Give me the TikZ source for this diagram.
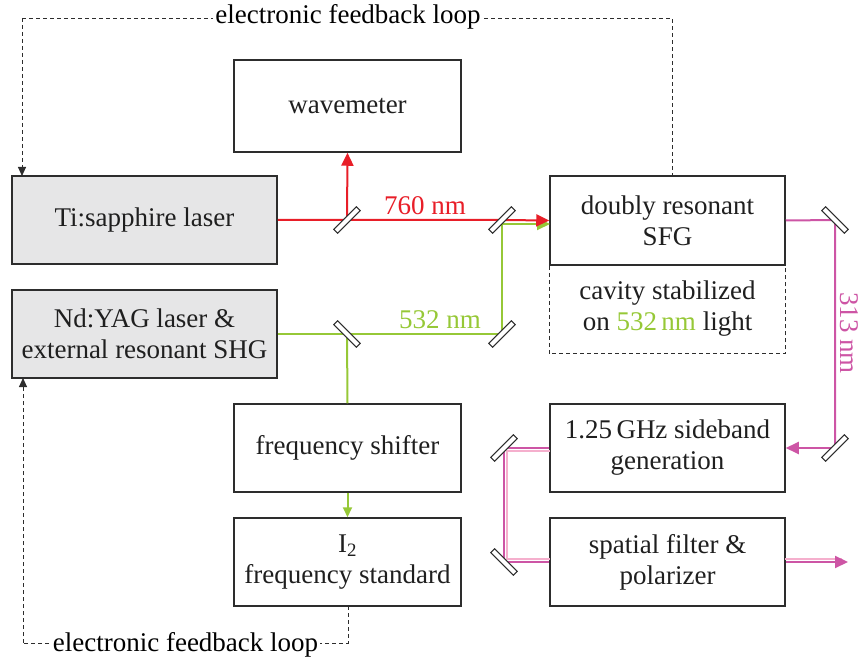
\documentclass[tikz,border=0pt]{standalone}
\usepackage{fontspec}
\setmainfont{Liberation Serif}
\usetikzlibrary{arrows.meta}
\definecolor{boxgray}{RGB}{230,230,231}
\definecolor{edge}{RGB}{45,45,45}
\definecolor{beamred}{RGB}{232,30,40}
\definecolor{beamgreen}{RGB}{150,200,55}
\definecolor{beampink}{RGB}{205,85,165}
\definecolor{lightpink}{RGB}{245,175,205}
\tikzset{
  box/.style={draw=edge, line width=1.5pt, minimum width=227pt, minimum height=88pt, align=center, inner sep=0pt, font=\fontsize{27}{31}\selectfont, text=black!88},
  graybox/.style={box, fill=boxgray, minimum width=265pt},
  mirror/.style={draw=edge, fill=white, line width=1pt, minimum width=32pt, minimum height=5.5pt, inner sep=0pt},
  redbeam/.style={draw=beamred, line width=2pt},
  greenbeam/.style={draw=beamgreen, line width=2pt},
  pinkbeam/.style={draw=beampink, line width=2pt},
  ltbeam/.style={draw=lightpink, line width=2pt},
  tip/.style={-{Triangle[length=13pt,width=12pt]}},
  fb/.style={draw=edge, line width=0.9pt, dash pattern=on 4pt off 3pt},
  lbl/.style={font=\fontsize{27}{31}\selectfont, inner sep=1pt}
}
\begin{document}
\begin{tikzpicture}[x=1pt,y=-1pt]
\useasboundingbox (0,0) rectangle (863,666);
% boxes
\node[graybox] (ti) at (144.5,220) {Ti:sapphire laser};
\node[graybox] (nd) at (144.5,334) {Nd:YAG laser \&\\external resonant SHG};
\node[box, minimum height=92pt] (wm) at (347.5,106) {wavemeter};
\node[box] (fs) at (347.5,448) {frequency shifter};
\node[box] (i2) at (347.5,562) {I\textsubscript{2}\\frequency standard};
\node[box, minimum width=235pt, minimum height=89pt] (sfg) at (667.5,220.5) {doubly resonant\\SFG};
\node[box, draw=none, minimum width=235pt, minimum height=88pt] (cav) at (667.5,309) {cavity stabilized\\on {\color{beamgreen}532\,nm} light};
\draw[fb, line width=1.1pt] (sfg.south west) -- (cav.south west) -- (cav.south east) -- (sfg.south east);
\node[box, minimum width=235pt] (sb) at (667.5,448) {1.25\,GHz sideband\\generation};
\node[box, minimum width=235pt] (sp) at (667.5,562) {spatial filter \&\\polarizer};
% mirror positions
\coordinate (p1) at (347,220);
\coordinate (p2) at (502,220);
\coordinate (p3) at (347,334);
\coordinate (p4) at (502,334);
\coordinate (p5) at (835,220);
\coordinate (p6) at (835,448);
\coordinate (p7) at (504,448);
\coordinate (p8) at (504,562);
\coordinate (g1) at (502,224);
\coordinate (g2) at (550,224);
\coordinate (out) at (848,562);
\coordinate (q7) at (507,451);
\coordinate (q8) at (507,559);
\coordinate (qs) at (550,451);
\coordinate (qp) at (550,559);
\coordinate (qo1) at (785,559);
\coordinate (qo2) at (842,559);
% green beams
\draw[greenbeam] (nd.east) -- (p3) -- (p4) -- (g1);
\draw[greenbeam, tip] (g1) -- (g2);
\draw[greenbeam] (p3) -- (fs.north);
\draw[greenbeam, -{Triangle[length=10pt,width=9pt]}] (fs.south) -- (i2.north);
% red beams
\draw[redbeam, tip] (ti.east) -- (p1) -- (p2) -- (sfg.west);
\draw[redbeam, tip] (p1) -- (wm.south);
% pink beams
\draw[pinkbeam] (sfg.east) -- (p5) -- (p6);
\draw[pinkbeam, tip] (p6) -- (sb.east);
\draw[ltbeam] (qs) -- (q7) -- (q8) -- (qp);
\draw[pinkbeam] (sb.west) -- (p7) -- (p8) -- (sp.west);
\draw[ltbeam] (qo1) -- (qo2);
\draw[pinkbeam, tip] (sp.east) -- (out);
% mirrors
\node[mirror, rotate=45] (m1) at (p1) {};
\node[mirror, rotate=45] (m2) at (p2) {};
\node[mirror, rotate=-45] (m3) at (p3) {};
\node[mirror, rotate=45] (m4) at (p4) {};
\node[mirror, rotate=-45] (m5) at (p5) {};
\node[mirror, rotate=45] (m6) at (p6) {};
\node[mirror, rotate=45] (m7) at (p7) {};
\node[mirror, rotate=-45] (m8) at (p8) {};
% beam labels
\node[lbl, text=beamred] (l760) at (425,206) {760 nm};
\node[lbl, text=beamgreen] (l532) at (440,320) {532 nm};
\node[lbl, text=beampink, rotate=-90] (l313) at (849,333) {313 nm};
% feedback loops
\coordinate (t1) at (672,18);
\coordinate (t2) at (22,18);
\coordinate (t3) at (22,176);
\coordinate (b1) at (348,643);
\coordinate (b2) at (23,643);
\coordinate (b3) at (23,378);
\draw[fb] (672,176.7) -- (t1) -- (t2);
\draw[fb, -{Triangle[length=9pt,width=8pt]}] (t2) -- (t3);
\draw[fb] (348,606) -- (b1) -- (b2);
\draw[fb, -{Triangle[length=9pt,width=8pt]}] (b2) -- (b3);
\node[lbl, fill=white, inner sep=2pt] (fb1) at (348,17) {electronic feedback loop};
\node[lbl, fill=white, inner sep=2pt] (fb2) at (185.5,645) {electronic feedback loop};
\end{tikzpicture}
\end{document}
